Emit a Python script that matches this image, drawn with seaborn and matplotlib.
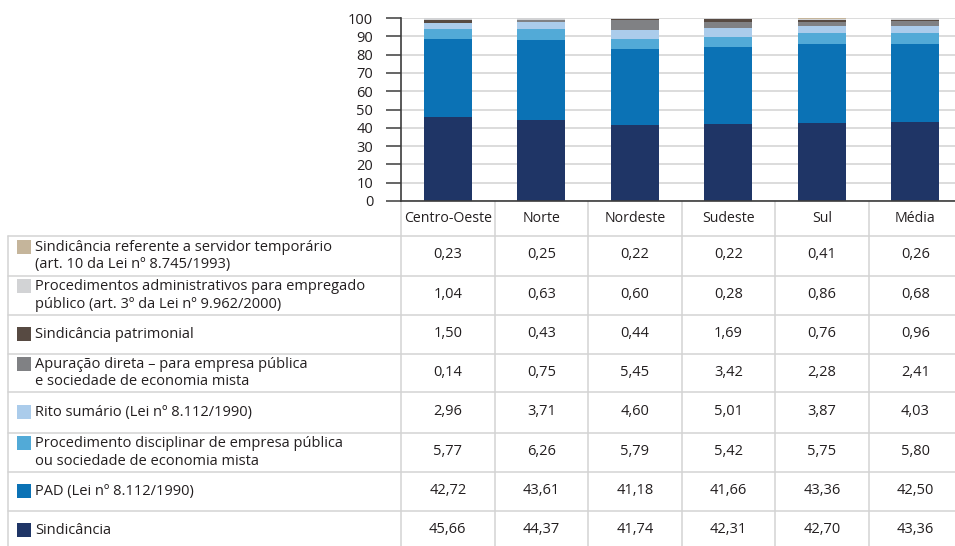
import matplotlib
matplotlib.use("Agg")
import matplotlib.pyplot as plt
from matplotlib.patches import Rectangle
import numpy as np
import seaborn as sns

# Regions (columns) and share (%) of each procedure type
regions = ["Centro-Oeste", "Norte", "Nordeste", "Sudeste", "Sul", "Média"]

sindicancia = [45.66, 44.37, 41.74, 42.31, 42.70, 43.36]
pad = [42.72, 43.61, 41.18, 41.66, 43.36, 42.50]
proc_empresa = [5.77, 6.26, 5.79, 5.42, 5.75, 5.80]
rito_sumario = [2.96, 3.71, 4.60, 5.01, 3.87, 4.03]
apuracao_direta = [0.14, 0.75, 5.45, 3.42, 2.28, 2.41]
sind_patrimonial = [1.50, 0.43, 0.44, 1.69, 0.76, 0.96]
proc_empregado = [1.04, 0.63, 0.60, 0.28, 0.86, 0.68]
sind_temporario = [0.23, 0.25, 0.22, 0.22, 0.41, 0.26]

# Series from the bottom of the stack to the top
series = [
    ("Sindicância", sindicancia, "#1f3566"),
    ("PAD (Lei nº 8.112/1990)", pad, "#0b72b5"),
    ("Procedimento disciplinar de empresa pública\nou sociedade de economia mista", proc_empresa, "#52aad7"),
    ("Rito sumário (Lei nº 8.112/1990)", rito_sumario, "#abcceb"),
    ("Apuração direta – para empresa pública\ne sociedade de economia mista", apuracao_direta, "#808184"),
    ("Sindicância patrimonial", sind_patrimonial, "#574a42"),
    ("Procedimentos administrativos para empregado\npúblico (art. 3º da Lei nº 9.962/2000)", proc_empregado, "#d2d3d5"),
    ("Sindicância referente a servidor temporário\n(art. 10 da Lei nº 8.745/1993)", sind_temporario, "#c5b59b"),
]

sns.set_theme(style="white")
plt.rcParams["font.family"] = ["Open Sans", "DejaVu Sans"]

TEXT = "#231f20"
RULE = "#d3d3d3"
FS = 10.5

W, H = 955, 546
fig = plt.figure(figsize=(W / 100, H / 100), dpi=100)

# table layout (pixel units)
x_left = 401
col_w = 93.5
axis_y = 201
top_y = 18
row_edges = [236, 276, 315, 354, 392, 433, 472, 511, 550]

# --- stacked bar chart -------------------------------------------------
ax = fig.add_axes([x_left / W, (H - axis_y) / H, 6 * col_w / W, (axis_y - top_y) / H])
ax.patch.set_alpha(0)

cum = np.cumsum(np.array([s[1] for s in series]), axis=0)
for (label, _, color), heights in reversed(list(zip(series, cum))):
    sns.barplot(x=regions, y=heights, order=regions, color=color, saturation=1,
                width=0.515, linewidth=0, errorbar=None, ax=ax)

ax.set_xlim(-0.5, 5.5)
ax.set_ylim(0, 100)
ax.set_yticks(range(0, 101, 10))
ax.yaxis.grid(True, color="#d9d9d9", linewidth=1.3)
ax.set_axisbelow(True)
for side in ("top", "right"):
    ax.spines[side].set_visible(False)
for side in ("left", "bottom"):
    ax.spines[side].set_color("#3c3c3c")
    ax.spines[side].set_linewidth(1.2)
ax.tick_params(axis="y", left=True, length=10.5, width=1.1, color="#3c3c3c",
               pad=9.5, labelsize=FS, labelcolor=TEXT)
ax.tick_params(axis="x", length=0, pad=7, labelsize=10.2, labelcolor=TEXT)
ax.set_xlabel("")
ax.set_ylabel("")

# --- data table below the chart ---------------------------------------
tb = fig.add_axes([0, 0, 1, 1], zorder=-1)
tb.set_xlim(0, W)
tb.set_ylim(H, 0)
tb.axis("off")

col_edges = [x_left + k * col_w for k in range(7)]
for xe in col_edges:
    tb.plot([xe, xe], [axis_y, H], color=RULE, lw=1.1)
tb.plot([8, 8], [row_edges[0], H], color=RULE, lw=1.1)
for ye in row_edges[:-1]:
    tb.plot([8, col_edges[-1]], [ye, ye], color=RULE, lw=1.1)

for r, (label, values, color) in enumerate(reversed(series)):
    top, bottom = row_edges[r], row_edges[r + 1]
    mid = (top + bottom) / 2
    nlines = label.count("\n") + 1
    tb.text(35, mid, label, ha="left", va="center", fontsize=FS, color=TEXT,
            linespacing=1.2)
    sw_c = mid - (nlines - 1) * 8.5 - 1
    tb.add_patch(Rectangle((17, sw_c - 7), 14, 14, color=color, lw=0))
    for c, v in enumerate(values):
        tb.text(x_left + (c + 0.5) * col_w, mid - 1, f"{v:.2f}".replace(".", ","),
                ha="center", va="center", fontsize=FS, color=TEXT)

fig.savefig("out.png", dpi=100)
